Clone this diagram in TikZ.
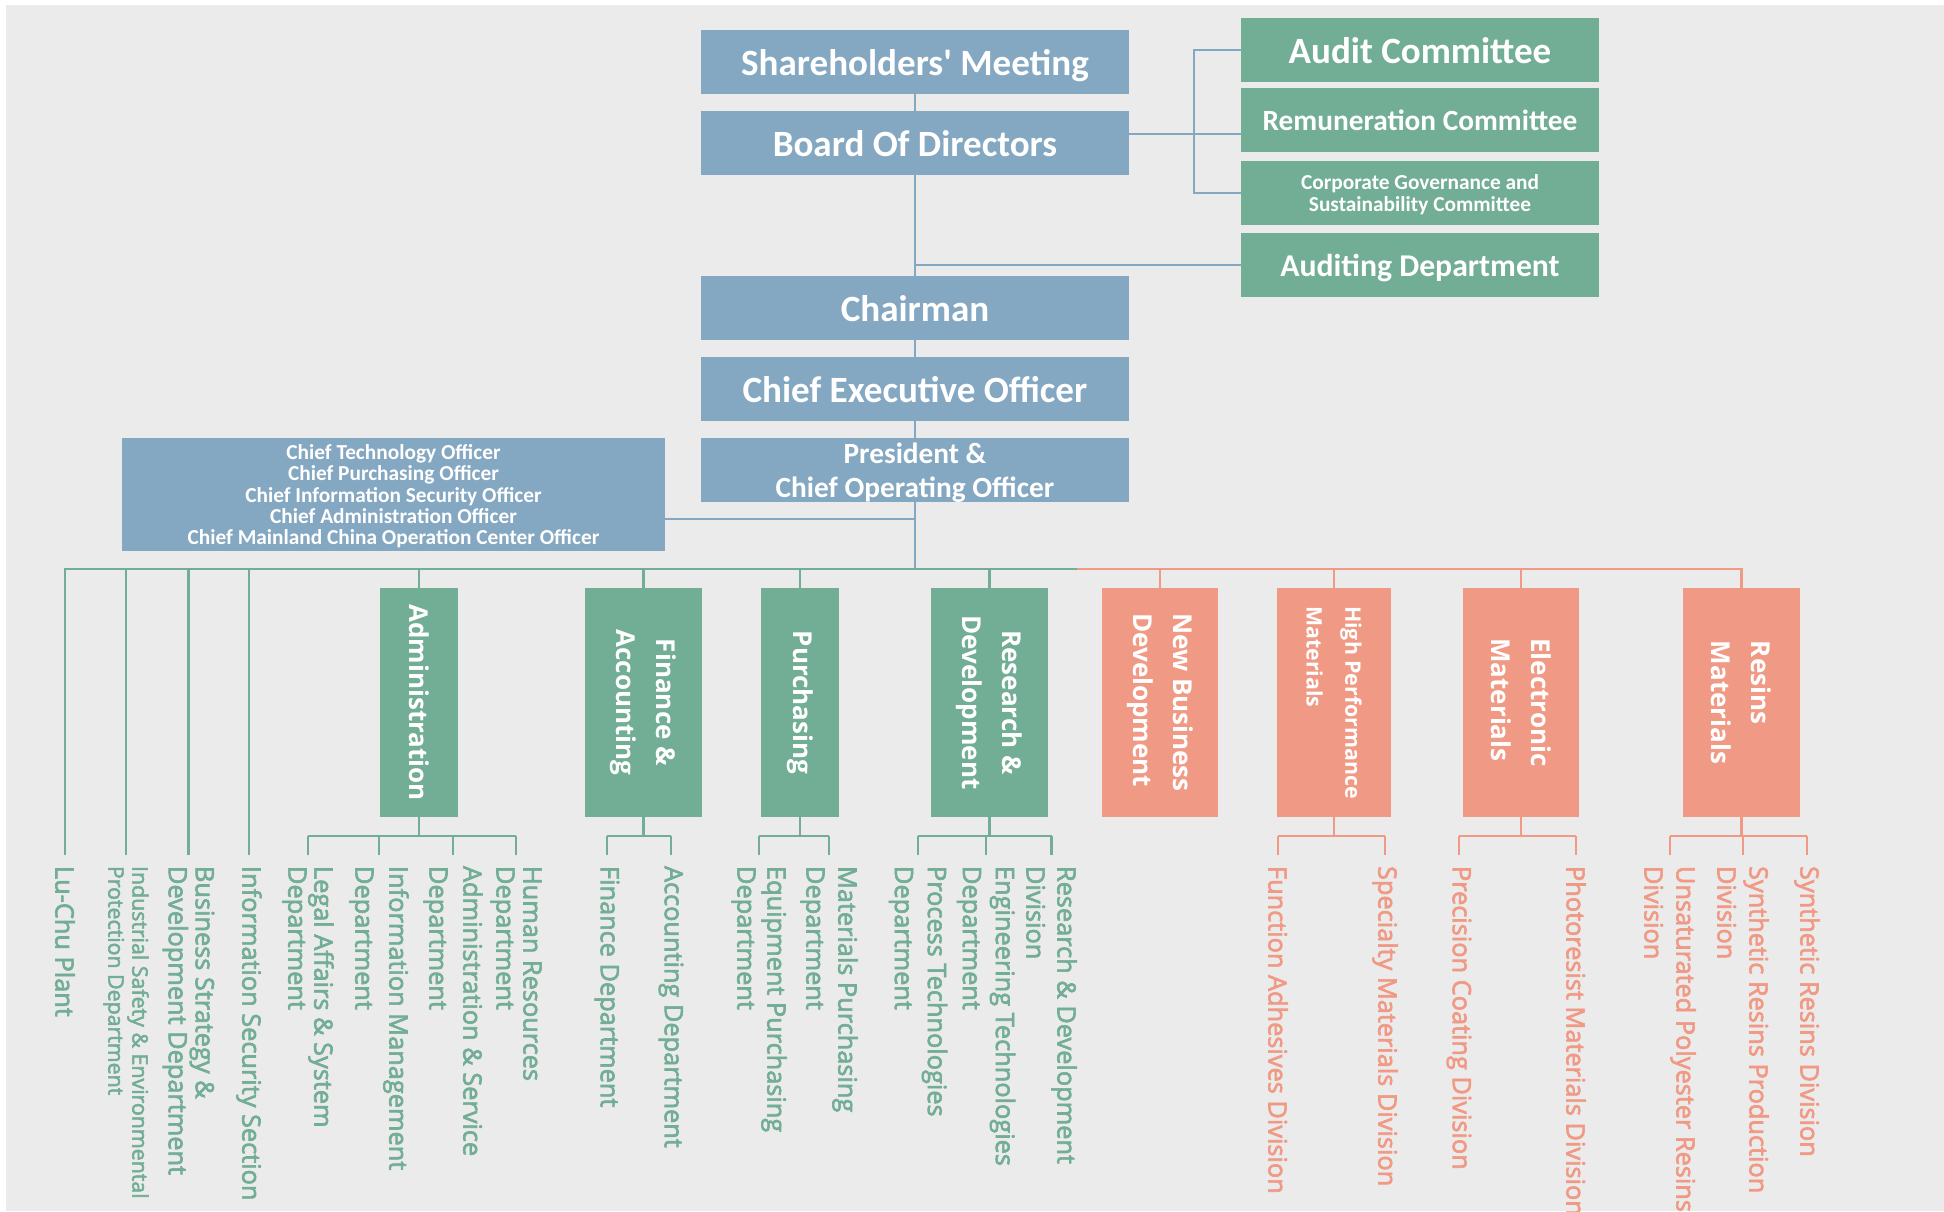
\documentclass[tikz,border=0pt]{standalone}
\usepackage{fontspec}
\setmainfont{Carlito}
\newfontfamily\osans{Open Sans}
\newfontfamily\osansm[FakeBold=2.5]{Open Sans}
\definecolor{cblue}{HTML}{84A7C2}
\definecolor{cgreen}{HTML}{72AD96}
\definecolor{corange}{HTML}{F09A85}
\definecolor{cbg}{HTML}{EBEBEB}
\newcommand\orgbox[7]{\node[#6, minimum width={(#4-#2)*0.75pt}, minimum height={(#5-#3)*0.75pt}] (#1) at ({(#2+#4)/2},{(#3+#5)/2}) {#7};}
\begin{document}
\begin{tikzpicture}[x=0.75pt,y=-0.75pt,
 bb/.style={fill=cblue,inner sep=0,outer sep=0,text=white,align=center,text depth=0pt,font=\bfseries\fontsize{27.8}{30}\selectfont},
 gb/.style={bb,fill=cgreen},
 ob/.style={bb,fill=corange},
 bl/.style={draw=cblue,line width=1.6pt},
 gl/.style={draw=cgreen,line width=1.6pt},
 ol/.style={draw=corange,line width=1.6pt},
 blab/.style={rotate=-90,inner sep=0,text=white,font=\osans\bfseries\fontsize{19.5}{30}\selectfont},
 lab/.style={rotate=-90,anchor=west,inner sep=0,outer xsep=8.25pt,outer ysep=0pt,align=left,text=cgreen,font=\osansm\fontsize{19}{#1}\selectfont},
 lab/.default=23,
 olab/.style={lab=#1,text=corange},
 olab/.default=23]
\fill[white] (0,0) rectangle (1944,1211);
\fill[cbg] (6,5) rectangle (1944,1211);
\useasboundingbox (0,0) rectangle (1944,1211);

% top blue boxes
\orgbox{sh}{701}{30}{1129}{94}{bb}{Shareholders\textquotesingle{} Meeting}
\orgbox{bod}{701}{111}{1129}{175}{bb}{Board Of Directors}
\orgbox{chair}{701}{276}{1129}{340}{bb}{Chairman}
\orgbox{ceo}{701}{357}{1129}{421}{bb}{Chief Executive Officer}
\orgbox{pres}{701}{438}{1129}{502}{bb,font=\bfseries\fontsize{22}{25.5}\selectfont}{President \&\\Chief Operating Officer}
\orgbox{cto}{122}{438}{665}{551}{bb,font=\bfseries\fontsize{16}{16}\selectfont}{Chief Technology Officer\\Chief Purchasing Officer\\Chief Information Security Officer\\Chief Administration Officer\\Chief Mainland China Operation Center Officer}
% committees
\orgbox{audit}{1241}{18}{1599}{82}{gb}{Audit Committee}
\orgbox{remun}{1241}{88}{1599}{152}{gb,font=\bfseries\fontsize{22}{26}\selectfont}{Remuneration Committee}
\orgbox{corp}{1241}{161}{1599}{225}{gb,font=\bfseries\fontsize{16}{16.5}\selectfont}{Corporate Governance and\\Sustainability Committee}
\orgbox{auddept}{1241}{233}{1599}{297}{gb,font=\bfseries\fontsize{23.8}{26}\selectfont}{Auditing Department}

% departments
\orgbox{adm}{380}{588}{458}{817}{gb}{}
\orgbox{fin}{585}{588}{702}{817}{gb}{}
\orgbox{pur}{761}{588}{839}{817}{gb}{}
\orgbox{rd}{931}{588}{1048}{817}{gb}{}
\orgbox{nbd}{1102}{588}{1218}{817}{ob}{}
\orgbox{hpm}{1277}{588}{1391}{817}{ob}{}
\orgbox{em}{1463}{588}{1579}{817}{ob}{}
\orgbox{rm}{1683}{588}{1800}{817}{ob}{}
\node[blab] (admT) at (adm.center) {Administration};
\node[blab,align=center] (finT) at (fin.center) {Finance \&\\Accounting};
\node[blab] (purT) at (pur.center) {Purchasing};
\node[blab,align=center] (rdT) at (rd.center) {Research \&\\Development};
\node[blab,align=left] (nbdT) at (nbd.center) {New Business\\Development};
\node[blab,align=left,font=\osans\bfseries\fontsize{16}{29}\selectfont] (hpmT) at (hpm.center) {High Performance\\Materials};
\node[blab,align=left] (emT) at (em.center) {Electronic\\Materials};
\node[blab,align=left] (rmT) at (rm.center) {Resins\\Materials};

% labels
\node[lab] (lu) at (65,855) {Lu-Chu Plant};
\node[lab=18,font=\osansm\fontsize{16}{18}\selectfont] (ise) at (126,855) {Industrial Safety \& Environmental\\Protection Department};
\node[lab=20.25] (bsd) at (188.5,855) {Business Strategy \&\\Development Department};
\node[lab] (iss) at (249,855) {Information Security Section};
\node[lab=19.5] (legal) at (308,855) {Legal Affairs \& System\\Department};
\node[lab=25.5] (infm) at (379,855) {Information Management\\Department};
\node[lab=25.5] (adsv) at (453,855) {Administration \& Service\\Department};
\node[lab=20.25] (hr) at (516,855) {Human Resources\\Department};
\node[lab] (finD) at (607,855) {Finance Department};
\node[lab] (accD) at (671,855) {Accounting Department};
\node[lab=22.5] (eqp) at (759,855) {Equipment Purchasing\\Department};
\node[lab=24] (matp) at (829,855) {Materials Purchasing\\Department};
\node[lab=24.75] (proc) at (918,855) {Process Technologies\\Department};
\node[lab=24.75] (eng) at (986,855) {Engineering Technologies\\Department};
\node[lab=23.25] (rdd) at (1051.5,855) {Research \& Development\\Division};
\node[olab] (fad) at (1278,855) {Function Adhesives Division};
\node[olab] (spm) at (1385,855) {Specialty Materials Division};
\node[olab] (pcd) at (1459,855) {Precision Coating Division};
\node[olab] (pmd) at (1576,855) {Photoresist Materials Division};
\node[olab=24] (upr) at (1670,855) {Unsaturated Polyester Resins\\Division};
\node[olab=24] (srp) at (1743,855) {Synthetic Resins Production\\Division};
\node[olab] (srd) at (1807,855) {Synthetic Resins Division};

% upper connectors
\draw[bl] (sh) -- (bod);
\draw[bl] (bod) -- (chair);
\draw[bl] (chair) -- (ceo);
\draw[bl] (ceo) -- (pres);
\coordinate (bus) at (915,569);
\coordinate (ctoj) at (915,519);
\coordinate (audj) at (915,265);
\coordinate (brk) at (1194,134);
\draw[bl] (pres.south) -- (pres.south |- bus);
\draw[bl] (cto.east |- ctoj) -- (ctoj);
\draw[bl] (audj) -- (auddept.west);
\draw[bl] (bod.east |- brk) -- (remun.west |- brk);
\draw[bl] (audit.west) -| (brk) |- (corp.west);

% main bus
\coordinate (gR) at (1077,569);
\draw[gl] (lu.west) -- (lu.west |- gR) -- (gR);
\draw[ol] (gR) -- (rm.north |- gR) -- (rm.north);
\foreach \n in {ise,bsd,iss} \draw[gl] (\n.west |- gR) -- (\n.west);
\foreach \n in {adm,fin,pur,rd} \draw[gl] (\n.north |- gR) -- (\n.north);
\foreach \n in {nbd,hpm,em} \draw[ol] (\n.north |- gR) -- (\n.north);

% child buses
\coordinate (cb) at (0,836);
\draw[gl] (adm.south) -- (adm.south |- cb);
\draw[gl] (legal.west |- cb) -- (hr.west |- cb);
\foreach \n in {legal,infm,adsv,hr} \draw[gl] (\n.west |- cb) -- (\n.west);
\draw[gl] (fin.south) -- (fin.south |- cb);
\draw[gl] (finD.west |- cb) -- (accD.west |- cb);
\foreach \n in {finD,accD} \draw[gl] (\n.west |- cb) -- (\n.west);
\draw[gl] (pur.south) -- (pur.south |- cb);
\draw[gl] (eqp.west |- cb) -- (matp.west |- cb);
\foreach \n in {eqp,matp} \draw[gl] (\n.west |- cb) -- (\n.west);
\draw[gl] (rd.south) -- (rd.south |- cb);
\draw[gl] (proc.west |- cb) -- (rdd.west |- cb);
\foreach \n in {proc,eng,rdd} \draw[gl] (\n.west |- cb) -- (\n.west);
\draw[ol] (hpm.south) -- (hpm.south |- cb);
\draw[ol] (fad.west |- cb) -- (spm.west |- cb);
\foreach \n in {fad,spm} \draw[ol] (\n.west |- cb) -- (\n.west);
\draw[ol] (em.south) -- (em.south |- cb);
\draw[ol] (pcd.west |- cb) -- (pmd.west |- cb);
\foreach \n in {pcd,pmd} \draw[ol] (\n.west |- cb) -- (\n.west);
\draw[ol] (rm.south) -- (rm.south |- cb);
\draw[ol] (upr.west |- cb) -- (srd.west |- cb);
\foreach \n in {upr,srp,srd} \draw[ol] (\n.west |- cb) -- (\n.west);
\end{tikzpicture}
\end{document}
